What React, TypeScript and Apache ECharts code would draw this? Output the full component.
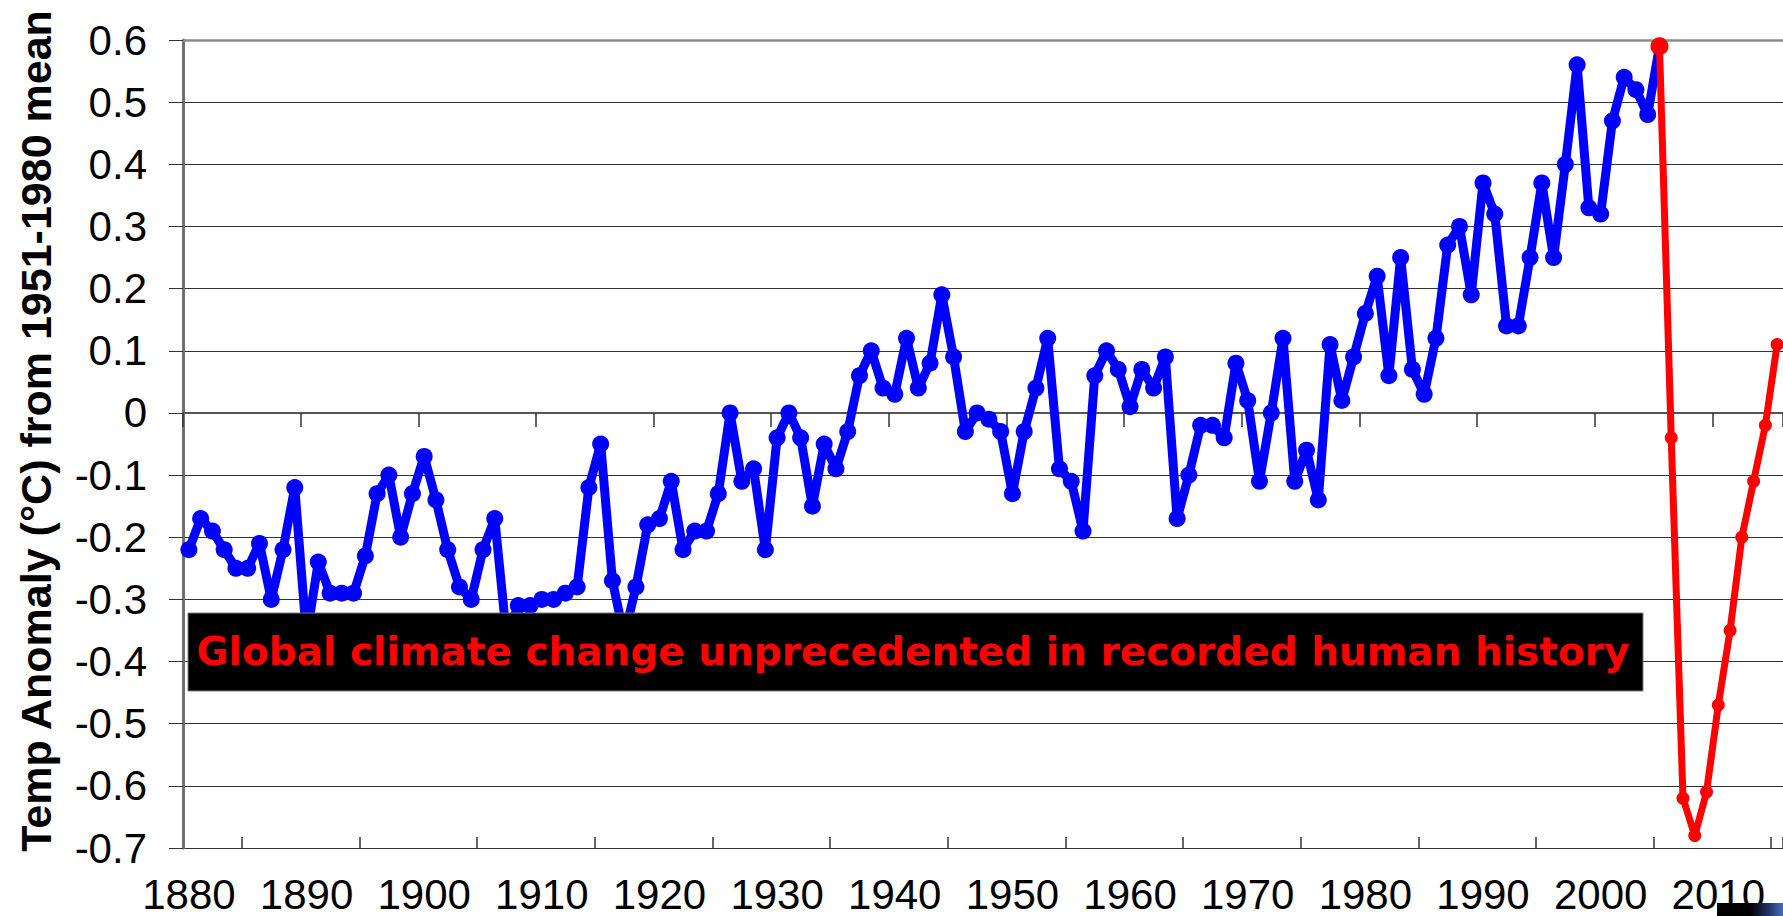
import React, { useEffect, useRef } from "react";
import * as echarts from "echarts";

// ---- data ----
const firstYear = 1880;
const lastYear = 2015;
const years: string[] = [];
for (let y = firstYear; y <= lastYear; y++) years.push(String(y));

// Observed anomaly (blue), 1880-2005
const observedAnomaly: number[] = [
  // 1880s
  -0.22, -0.17, -0.19, -0.22, -0.25, -0.25, -0.21, -0.30, -0.22, -0.12,
  // 1890s
  -0.36, -0.24, -0.29, -0.29, -0.29, -0.23, -0.13, -0.10, -0.20, -0.13,
  // 1900s
  -0.07, -0.14, -0.22, -0.28, -0.30, -0.22, -0.17, -0.36, -0.31, -0.31,
  // 1910s
  -0.30, -0.30, -0.29, -0.28, -0.12, -0.05, -0.27, -0.36, -0.28, -0.18,
  // 1920s
  -0.17, -0.11, -0.22, -0.19, -0.19, -0.13, 0.00, -0.11, -0.09, -0.22,
  // 1930s
  -0.04, 0.00, -0.04, -0.15, -0.05, -0.09, -0.03, 0.06, 0.10, 0.04,
  // 1940s
  0.03, 0.12, 0.04, 0.08, 0.19, 0.09, -0.03, 0.00, -0.01, -0.03,
  // 1950s
  -0.13, -0.03, 0.04, 0.12, -0.09, -0.11, -0.19, 0.06, 0.10, 0.07,
  // 1960s
  0.01, 0.07, 0.04, 0.09, -0.17, -0.10, -0.02, -0.02, -0.04, 0.08,
  // 1970s
  0.02, -0.11, 0.00, 0.12, -0.11, -0.06, -0.14, 0.11, 0.02, 0.09,
  // 1980s
  0.16, 0.22, 0.06, 0.25, 0.07, 0.03, 0.12, 0.27, 0.30, 0.19,
  // 1990s
  0.37, 0.32, 0.14, 0.14, 0.25, 0.37, 0.25, 0.40, 0.56, 0.33,
  // 2000s
  0.32, 0.47, 0.54, 0.52, 0.48, 0.59,
];

// "Projection" (red), 2005-2015
const projectionStartYear = "2005";
const projectedAnomaly: number[] = [
  0.59, -0.04, -0.62, -0.68, -0.61, -0.47, -0.35, -0.20, -0.11, -0.02, 0.11,
];

const yMin = -0.7;
const yMax = 0.6;
const yStep = 0.1;

const yAxisTitle = "Temp Anomaly (°C) from 1951-1980 mean";
const bannerText = "Global climate change unprecedented in recorded human history";

// ---- series built from the arrays ----
const blueSeriesData = years.map((_, i) =>
  i < observedAnomaly.length ? observedAnomaly[i] : "-"
);
const redStartIndex = years.indexOf(projectionStartYear);
const redSeriesData = years.map((_, i) =>
  i >= redStartIndex && i - redStartIndex < projectedAnomaly.length
    ? projectedAnomaly[i - redStartIndex]
    : "-"
);

const AXIS_FONT = '"Liberation Sans", Arial, Helvetica, sans-serif';

export default function App() {
  const ref = useRef<HTMLDivElement>(null);

  useEffect(() => {
    document.body.style.margin = "0";
    const chart = echarts.init(ref.current as HTMLDivElement, null, {
      renderer: "svg",
    });

    const option: any = {
      animation: false,
      backgroundColor: "#ffffff",
      grid: { left: 183, top: 40, width: 1611, height: 808, containLabel: false },
      xAxis: [
        {
          type: "category",
          data: years,
          boundaryGap: true,
          position: "bottom",
          axisLine: { show: true, lineStyle: { color: "#555555", width: 2 } },
          axisTick: {
            show: true,
            interval: 9,
            inside: false,
            length: 14,
            lineStyle: { color: "#333333", width: 1.5 },
          },
          axisLabel: {
            interval: 9,
            margin: 29,
            fontSize: 42,
            lineHeight: 34,
            fontFamily: AXIS_FONT,
            color: "#000000",
          },
          splitLine: { show: false },
        },
        {
          type: "category",
          data: years,
          boundaryGap: true,
          position: "bottom",
          axisLine: { show: false },
          axisTick: {
            show: true,
            inside: true,
            length: 11,
            interval: (i: number) => i % 10 === 5,
            lineStyle: { color: "#333333", width: 1.5 },
          },
          axisLabel: { show: false },
          splitLine: { show: false },
        },
        {
          type: "category",
          data: years,
          boundaryGap: true,
          position: "top",
          axisLine: { show: true, lineStyle: { color: "#8c8c8c", width: 2.5 } },
          axisTick: { show: false },
          axisLabel: { show: false },
          splitLine: { show: false },
        },
      ],
      yAxis: {
        type: "value",
        min: yMin,
        max: yMax,
        interval: yStep,
        axisLine: { show: true, lineStyle: { color: "#707070", width: 3 } },
        axisTick: { show: true, length: 14, lineStyle: { color: "#333333", width: 1 } },
        axisLabel: {
          margin: 36,
          fontSize: 42,
          lineHeight: 40,
          fontFamily: AXIS_FONT,
          color: "#000000",
        },
        splitLine: { show: true, lineStyle: { color: "#333333", width: 1 } },
      },
      series: [
        {
          name: "Observed",
          type: "line",
          xAxisIndex: 0,
          data: blueSeriesData,
          symbol: "circle",
          symbolSize: 17,
          showSymbol: true,
          showAllSymbol: true,
          clip: false,
          lineStyle: { color: "#0000ff", width: 9, join: "round" },
          itemStyle: { color: "#0000ff" },
          z: 3,
        },
        {
          name: "Projection",
          type: "line",
          xAxisIndex: 0,
          data: redSeriesData,
          symbol: "circle",
          symbolSize: (_v: any, p: any) => (p.dataIndex === redStartIndex ? 18 : 13),
          showSymbol: true,
          showAllSymbol: true,
          clip: false,
          lineStyle: { color: "#ff0000", width: 7, join: "round" },
          itemStyle: { color: "#ff0000" },
          z: 4,
        },
      ],
      graphic: [
        {
          type: "text",
          x: 36,
          y: 431,
          rotation: Math.PI / 2,
          z: 10,
          style: {
            text: yAxisTitle,
            font: 'bold 43px "Liberation Sans", Arial, sans-serif',
            fill: "#000000",
            align: "center",
            verticalAlign: "middle",
          },
        },
        {
          type: "rect",
          z: 100,
          shape: { x: 188, y: 613, width: 1455, height: 78 },
          style: { fill: "#000000", stroke: "#7a7a7a", lineWidth: 1 },
        },
        {
          type: "text",
          x: 913,
          y: 651,
          z: 101,
          style: {
            text: bannerText,
            font: 'bold 39px "DejaVu Sans", sans-serif',
            fill: "#ff0000",
            align: "center",
            verticalAlign: "middle",
          },
        },
        {
          type: "rect",
          z: 100,
          shape: { x: 1717, y: 903, width: 66, height: 13 },
          style: {
            fill: new echarts.graphic.LinearGradient(0, 0, 1, 0, [
              { offset: 0, color: "#000000" },
              { offset: 0.5, color: "#000000" },
              { offset: 0.75, color: "#1c2c5c" },
              { offset: 1, color: "#4a6cb4" },
            ]),
          },
        },
      ],
    };

    chart.setOption(option);
    return () => chart.dispose();
  }, []);

  return <div ref={ref} style={{ width: 1783, height: 916 }} />;
}
